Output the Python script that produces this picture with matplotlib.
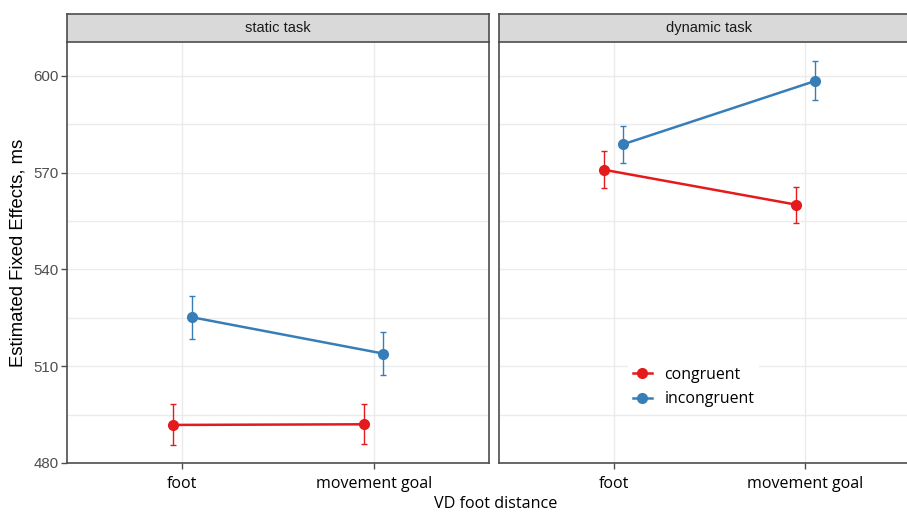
import matplotlib.pyplot as plt
from matplotlib.lines import Line2D

# data
facets = ["static task", "dynamic task"]
positions = ["foot", "movement goal"]
conditions = ["congruent", "incongruent"]
colors = {"congruent": "#E41A1C", "incongruent": "#377EB8"}

estimate = {
    ("static task", "congruent"): [491.8, 492.0],
    ("static task", "incongruent"): [525.2, 513.9],
    ("dynamic task", "congruent"): [570.9, 560.1],
    ("dynamic task", "incongruent"): [578.8, 598.4],
}
lower = {
    ("static task", "congruent"): [485.5, 485.9],
    ("static task", "incongruent"): [518.5, 507.3],
    ("dynamic task", "congruent"): [565.1, 554.5],
    ("dynamic task", "incongruent"): [573.1, 592.5],
}
upper = {
    ("static task", "congruent"): [498.4, 498.4],
    ("static task", "incongruent"): [531.8, 520.7],
    ("dynamic task", "congruent"): [576.8, 565.7],
    ("dynamic task", "incongruent"): [584.6, 604.6],
}
dodge = {"congruent": -0.05, "incongruent": 0.05}

W, H = 907, 512
fig = plt.figure(figsize=(W / 100, H / 100), dpi=100)

edge = "#4d4d4d"
grid = "#ebebeb"
sans = ["Liberation Sans", "DejaVu Sans"]
body = ["Open Sans", "DejaVu Sans"]


def rect(x0, y0, x1, y1):
    return [x0 / W, 1 - y1 / H, (x1 - x0) / W, (y1 - y0) / H]


panel_x = [(67, 489), (498.5, 920.5)]
for i, facet in enumerate(facets):
    x0, x1 = panel_x[i]
    ax = fig.add_axes(rect(x0, 42, x1, 463))
    ax.set_xlim(0.4, 2.6)
    ax.set_ylim(480, 610.5)
    ax.set_yticks([480, 510, 540, 570, 600])
    ax.set_yticks([495, 525, 555, 585], minor=True)
    ax.set_xticks([1, 2])
    ax.set_xticklabels(positions, fontsize=11.5, family=body, color="black")
    ax.grid(True, which="both", color=grid, lw=1.0)
    ax.set_axisbelow(True)
    ax.tick_params(axis="x", length=4, width=1.0, color=edge, pad=5)
    ax.tick_params(axis="y", which="minor", length=0)
    if i == 0:
        ax.tick_params(axis="y", length=4, width=1.0, color=edge, pad=2,
                       labelsize=10.8, labelcolor="#4d4d4d")
        for lab in ax.get_yticklabels():
            lab.set_family(sans)
    else:
        ax.tick_params(axis="y", length=0, labelleft=False)
    for s in ax.spines.values():
        s.set_color(edge)
        s.set_linewidth(1.2)
    ax.spines["top"].set_visible(False)

    for cond in conditions:
        xs = [k + 1 + dodge[cond] for k in range(len(positions))]
        ys = estimate[(facet, cond)]
        lo = [y - l for y, l in zip(ys, lower[(facet, cond)])]
        hi = [u - y for y, u in zip(ys, upper[(facet, cond)])]
        ax.errorbar(xs, ys, yerr=[lo, hi], fmt="none", ecolor=colors[cond],
                    elinewidth=1.0, capsize=2, capthick=1.0, zorder=3)
        ax.plot(xs, ys, color=colors[cond], lw=1.8, marker="o", ms=7,
                zorder=4, label=cond)

    if i == 1:
        handles = [Line2D([], [], color=colors[c], lw=1.8, marker="o", ms=7)
                   for c in conditions]
        leg = ax.legend(handles, conditions, loc="upper left",
                        bbox_to_anchor=(620 / W, 1 - 354 / H),
                        bbox_transform=fig.transFigure, frameon=True,
                        handlelength=1.2, handletextpad=0.8, labelspacing=0.55,
                        borderpad=0.3, prop={"family": body, "size": 11.4})
        leg.get_frame().set_edgecolor("none")
        leg.get_frame().set_facecolor("white")
        leg.get_frame().set_alpha(1)

    strip = fig.add_axes(rect(x0, 14, x1, 42))
    strip.set_facecolor("#d9d9d9")
    strip.set_xticks([])
    strip.set_yticks([])
    for s in strip.spines.values():
        s.set_color(edge)
        s.set_linewidth(1.2)
    strip.text(0.5, 0.5, facet, ha="center", va="center", fontsize=10.5,
               family=sans, color="#1a1a1a", transform=strip.transAxes)

fig.text(18 / W, 1 - 253 / H, "Estimated Fixed Effects, ms", rotation=90,
         ha="center", va="center", fontsize=13.3, family=sans)
fig.text(496 / W, 1 - 504 / H, "VD foot distance", ha="center",
         va="center", fontsize=11.6, family=body)

fig.savefig("out.png", dpi=100)
